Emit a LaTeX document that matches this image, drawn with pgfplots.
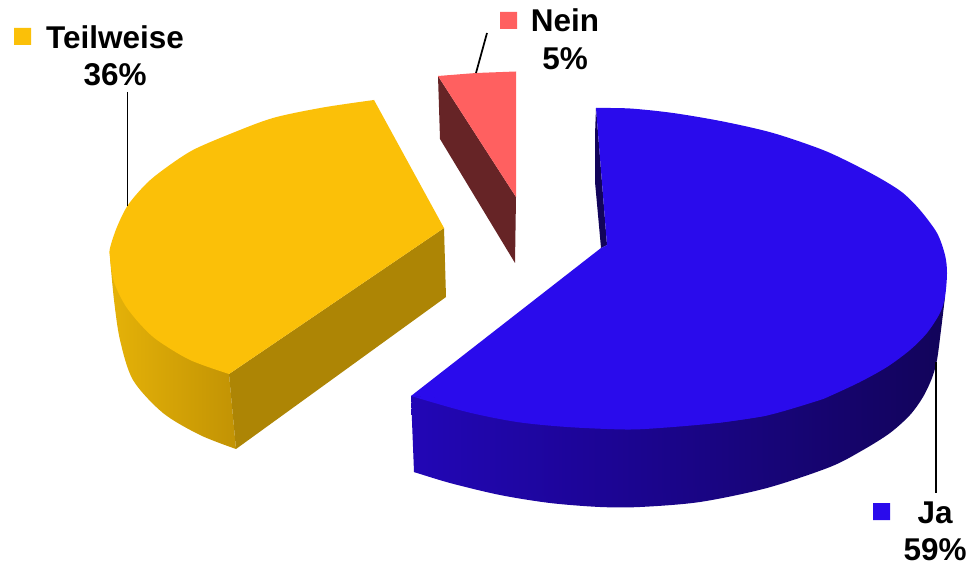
\documentclass[border=0pt]{standalone}
\usepackage{fontspec}
\setmainfont{Liberation Sans}
\usepackage{pgfplots}
\pgfplotsset{compat=1.18}
\definecolor{bluetop}{RGB}{42,11,236}
\definecolor{bluedark}{RGB}{18,4,90}
\definecolor{blueL}{RGB}{34,6,182}
\definecolor{blueM}{RGB}{22,5,112}
\definecolor{yellowL}{RGB}{229,178,8}
\definecolor{yellowR}{RGB}{194,147,4}
\definecolor{yellowM}{RGB}{212,162,6}
\definecolor{yellowtop}{RGB}{251,192,8}
\definecolor{yellowin}{RGB}{173,133,5}
\definecolor{redtop}{RGB}{255,96,96}
\definecolor{redside}{RGB}{102,36,38}
\newcommand{\lab}[3]{\node[anchor=base,inner sep=0pt,font=\fontsize{23.6}{28}\selectfont\bfseries] at (axis cs:#1,#2) {#3};}
\begin{document}
\begin{tikzpicture}
\begin{axis}[
  scale only axis, width=728.25pt, height=424.5pt,
  xmin=0, xmax=971, ymin=0, ymax=566, y dir=reverse,
  hide axis, enlargelimits=false,
]
\addplot[draw=none] coordinates {(0,0) (971,566)};
% Nein
\addplot[fill=redside,draw=none] coordinates {(438,76) (516,197) (515,263) (440,139) (438,76)};
\addplot[fill=redtop,draw=none] coordinates {(438,76) (476,73) (516,71.5) (516,197) (438,76)};
% Teilweise: outer side, inner side, top
\addplot[smooth,draw=none,left color=yellowL,middle color=yellowM,right color=yellowR] coordinates {(110,258) (114,300) (120,340) (133,380) (163,413) (200,435) (236,449)};
\addplot[draw=none,left color=yellowL,middle color=yellowM,right color=yellowR] coordinates {(110,258) (140,370) (236,449) (229,374) (110,258)};
\addplot[fill=yellowin,draw=none] coordinates {(229,374) (444,228) (446,297) (236,449) (229,374)};
\addplot[fill=yellowtop,draw=none] coordinates {(374,100) (444,228) (229,374) (200,250) (374,100)};
\addplot[smooth,fill=yellowtop,draw=none] coordinates {(374,100) (323,107.5) (273,118) (230,134) (193,150) (167,167) (147,183) (128,205) (117,227) (110,248) (110,258) (114,282) (125,305) (140,324) (157,340) (190,360) (229,374)};
% Ja: cut face, outer side, top
\addplot[fill=bluedark,draw=none] coordinates {(596,108) (595,135) (595,182) (601,248) (607,245) (596,108)};
\addplot[smooth,draw=none,left color=blueL,middle color=blueM,right color=bluedark] coordinates {(414,472) (450,483) (500,495) (550,503) (600,507) (640,507) (700,502) (767,488) (830,467) (863,450) (890,433) (910,415) (923,397) (932,378) (937,360) (941,330) (945,297)};
\addplot[draw=none,left color=blueL,middle color=blueM,right color=bluedark] coordinates {(411,396) (414,472) (600,505) (850,455) (945,297) (411,396)};
\addplot[fill=bluetop,draw=none] coordinates {(596,108) (607,245) (601,248) (411,396) (730,420) (730,300) (596,108)};
\addplot[smooth,fill=bluetop,draw=none] coordinates {(596,108) (630,108.5) (673,113) (723,121.5) (773,133) (823,150) (857,166) (883,180) (903,193) (920,210) (937,233) (945,255) (947,273) (945,297) (940,313) (927,333) (910,350) (887,367) (860,382) (830,396) (817,401) (767,415.5) (717,423)};
\addplot[smooth,fill=bluetop,draw=none] coordinates {(767,415.5) (717,423) (660,428) (625,429.5) (567,427) (517,422) (467,412) (411,396)};
% leader lines
\addplot[black,line width=1.3pt] coordinates {(127.5,92) (127.5,206)};
\addplot[black,line width=1.3pt] coordinates {(487,33) (476,73)};
\addplot[black,line width=1.3pt] coordinates {(936,362) (936,493)};
% legend keys
\addplot[fill=yellowtop,draw=none] coordinates {(14,28) (31,28) (31,45) (14,45) (14,28)};
\addplot[fill=redtop,draw=none] coordinates {(500,12) (517,12) (517,29) (500,29) (500,12)};
\addplot[fill=bluetop,draw=none] coordinates {(873,503) (890,503) (890,520) (873,520) (873,503)};
\lab{115}{49}{Teilweise}
\lab{115}{86}{36\%}
\lab{565}{32}{Nein}
\lab{565}{70}{5\%}
\lab{935}{523}{Ja}
\lab{935}{560}{59\%}
\end{axis}
\end{tikzpicture}
\end{document}
